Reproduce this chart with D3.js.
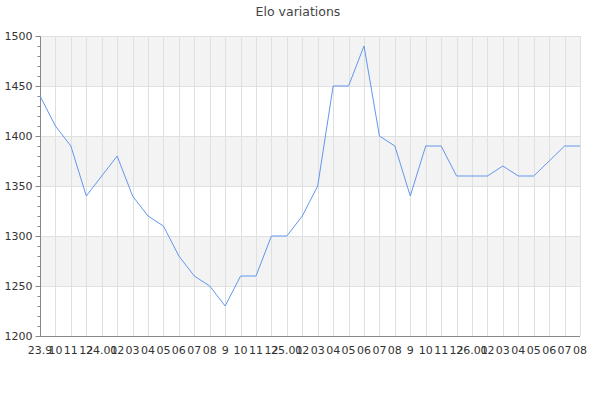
<!DOCTYPE html>
<html>
<head>
<meta charset="utf-8">
<script src="https://cdn.jsdelivr.net/npm/d3@7"></script>
<style>
body{margin:0;background:#fff;}
svg{display:block;font-family:"DejaVu Sans",sans-serif;}
</style>
</head>
<body>
<svg id="chart" width="600" height="400"></svg>
<script>
const titleText = "Elo variations";
const xLabels = ["23.9","10","11","12","24.01","02","03","04","05","06","07","08","9","10","11","12","25.01","02","03","04","05","06","07","08","9","10","11","12","26.01","02","03","04","05","06","07","08"];
const eloValues = [1440,1410,1390,1340,1360,1380,1340,1320,1310,1280,1260,1250,1230,1260,1260,1300,1300,1320,1350,1450,1450,1490,1400,1390,1340,1390,1390,1360,1360,1360,1370,1360,1360,1375,1390,1390];
const yTicks = [1200,1250,1300,1350,1400,1450,1500];
const yDomain = [1200,1500];

const svg = d3.select("#chart");
const L = 40, R = 580, T = 36, B = 336;
const x = d3.scaleLinear().domain([0, xLabels.length - 1]).range([L, R]);
const y = d3.scaleLinear().domain(yDomain).range([B, T]);

// bands
const bands = [];
for (let i = 0; i < yTicks.length - 1; i++) bands.push([yTicks[i], yTicks[i+1], i % 2 === 1]);
svg.append("g").selectAll("rect").data(bands.filter(b => b[2])).join("rect")
  .attr("x", L).attr("width", R - L)
  .attr("y", d => y(d[1])).attr("height", d => y(d[0]) - y(d[1]))
  .attr("fill", "#f3f3f3");

// vertical grid
svg.append("g").selectAll("line").data(xLabels.map((d,i)=>i)).join("line")
  .attr("x1", d => Math.round(x(d)) + 0.5).attr("x2", d => Math.round(x(d)) + 0.5)
  .attr("y1", T).attr("y2", B)
  .attr("stroke", "#e0e0e0").attr("stroke-width", 1);
// horizontal grid
svg.append("g").selectAll("line").data(yTicks).join("line")
  .attr("x1", L).attr("x2", R)
  .attr("y1", d => Math.round(y(d)) + 0.5).attr("y2", d => Math.round(y(d)) + 0.5)
  .attr("stroke", "#e0e0e0").attr("stroke-width", 1);

// y axis
const yAxisG = svg.append("g").attr("transform", `translate(${L + 0.5},0.5)`);
yAxisG.append("line").attr("x1",0).attr("x2",0).attr("y1",T).attr("y2",B).attr("stroke","#888");
const minor = d3.range(yDomain[0], yDomain[1] + 1, 10);
yAxisG.selectAll("line.t").data(minor).join("line").attr("class","t")
  .attr("x1", d => d % 50 === 0 ? -5 : -3).attr("x2", 0)
  .attr("y1", d => Math.round(y(d))).attr("y2", d => Math.round(y(d)))
  .attr("stroke", "#888");
yAxisG.selectAll("text").data(yTicks).join("text")
  .attr("x", -8).attr("y", d => Math.round(y(d)))
  .attr("dy", "0.35em").attr("text-anchor", "end")
  .attr("font-size", 11).attr("fill", "#333").text(d => d);

// x axis
const xAxisG = svg.append("g");
xAxisG.append("line").attr("x1", L).attr("x2", R).attr("y1", B + 0.5).attr("y2", B + 0.5).attr("stroke", "#888");
xAxisG.selectAll("text").data(xLabels).join("text")
  .attr("x", (d,i) => x(i)).attr("y", 354)
  .attr("text-anchor", "middle").attr("font-size", 11).attr("fill", "#333")
  .text(d => d);

// line
const line = d3.line().x((d,i) => x(i)).y(d => y(d));
svg.append("path").datum(eloValues)
  .attr("d", line).attr("fill", "none")
  .attr("stroke", "#6495ed").attr("stroke-width", 1);

// title
svg.append("text").attr("x", 298).attr("y", 16).attr("text-anchor", "middle")
  .attr("font-size", 12.5).attr("fill", "#444").text(titleText);
</script>
</body>
</html>
